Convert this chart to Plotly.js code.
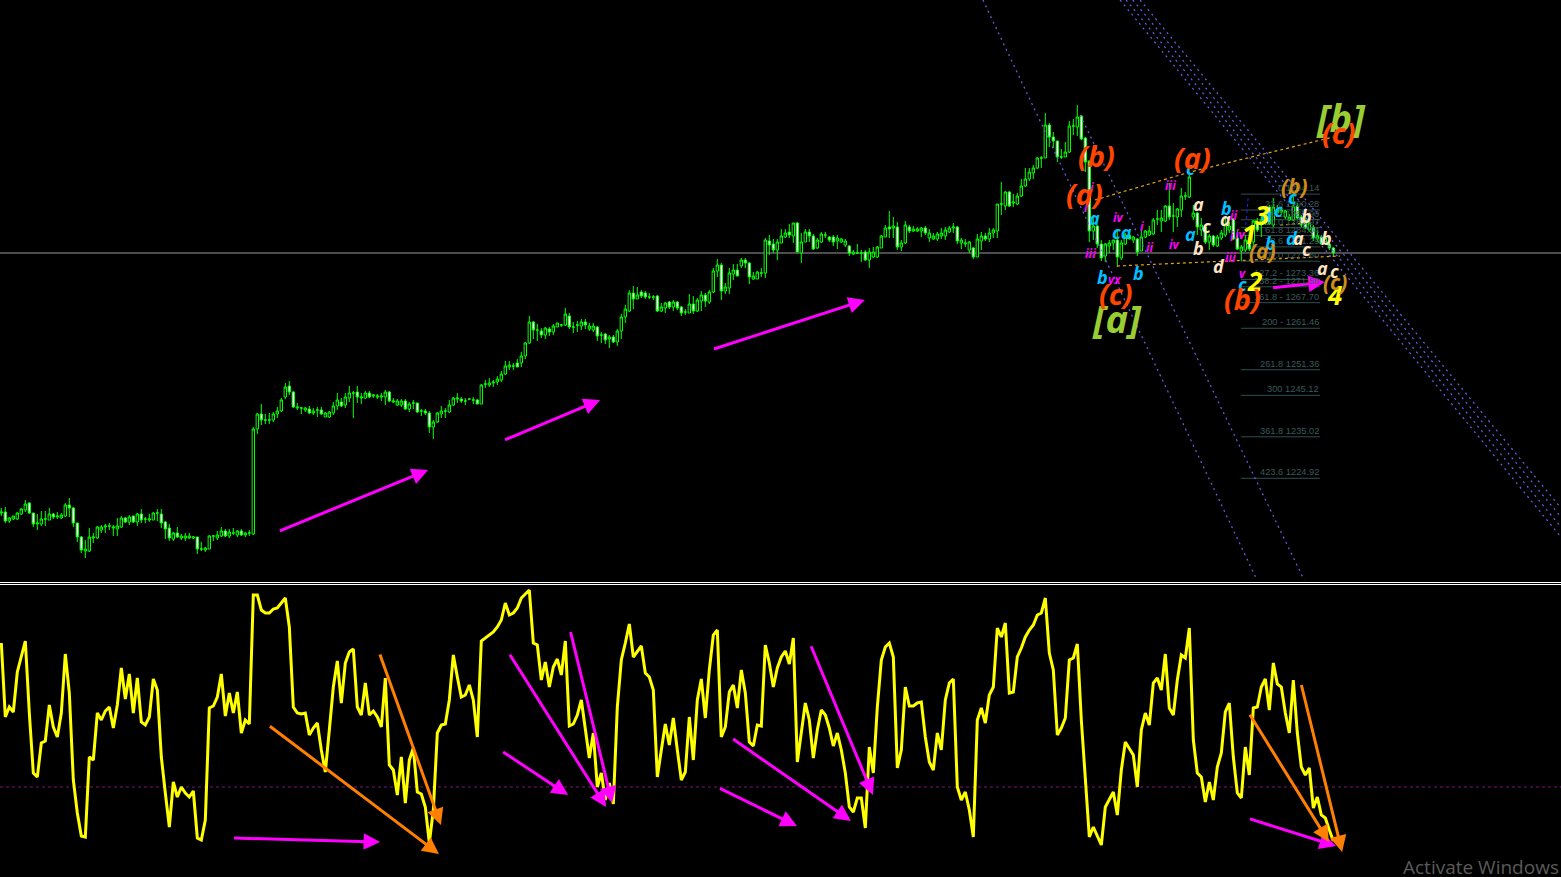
<!DOCTYPE html>
<html><head><meta charset="utf-8">
<script src="https://cdn.plot.ly/plotly-3.0.1.min.js"></script>
<style>html,body{margin:0;padding:0;background:#000;overflow:hidden}#c{width:1561px;height:877px}</style>
</head><body><div id="c"></div>
<script>
// Candle values, in ticks above PRICE_BASE.
const PRICE_BASE = 1200.14, PRICE_PER_TICK = 0.2436, PRICE_TICKS = 580;
const openTicks = [
67,68,59,61,61,66,70,77,67,56, 56,61,60,66,63,62,64,75,72,57, 43,29,29,42,42,50,53,54,52,51,
53,62,58,64,58,66,61,60,60,67, 66,58,52,41,47,42,42,42,42,43, 31,30,31,44,42,44,49,44,47,45,
49,45,47,46,151,166,160,160,160,166, 169,183,194,188,172,172,170,171,167,170, 170,163,163,167,174,178,175,182,187,188,
182,182,187,184,183,183,183,188,178,175, 175,179,171,177,177,169,169,167,153,158, 166,169,168,175,181,181,179,181,180,180,
176,196,195,197,198,200,206,213,214,217, 217,224,237,258,250,249,245,251,248,253, 255,255,264,253,255,254,258,251,250,253,
245,246,241,243,238,249,263,269,287,281, 288,287,283,283,284,269,272,278,273,278, 273,268,267,276,269,279,285,278,288,309,
315,289,292,306,310,314,320,317,301,301, 307,307,339,336,330,337,343,348,344,357, 327,338,348,344,332,338,345,343,343,339,
338,335,334,326,327,327,328,320,323,323, 332,343,353,352,353,333,337,353,349,349, 349,352,342,341,341,344,344,348,352,353,
337,336,330,332,323,339,344,341,347,349, 376,374,388,377,376,384,394,401,407,412, 422,422,455,443,439,423,423,428,454,453,
464,442,419,349,354,336,324,334,337,340, 322,336,345,340,341,329,343,345,346,361, 359,359,374,364,363,370,384,383,363,367,
350,353,338,344,334, 342,345,350,361,342,329,330,340,338,358,355,357,373,355,367,368,363,360,360,374,363,360,350,353,341,343,336,336,332];
const highTicks = [
72,73,63,64,68,72,80,78,67,66, 69,69,72,67,68,67,77,82,73,57, 44,40,52,47,54,55,56,57,55,62,
64,63,65,64,67,71,63,66,68,71, 71,59,56,48,53,46,47,47,44,43, 38,33,45,45,49,53,51,51,52,50,
51,48,50,153,167,176,166,167,168,173, 182,197,199,189,177,173,173,174,172,173, 173,168,169,178,187,182,187,194,189,194,
187,189,189,186,186,187,190,189,182,181, 181,181,178,180,177,171,171,169,160,168, 174,172,180,183,187,183,182,181,183,181,
196,200,202,200,204,209,219,219,217,221, 228,238,264,259,256,252,253,253,256,257, 256,272,267,258,259,261,261,257,257,254,
248,247,245,245,251,266,275,290,294,293, 290,289,287,285,285,277,278,279,280,279, 274,271,286,284,282,289,287,290,312,321,
317,297,312,316,316,322,322,318,308,309, 312,342,345,341,341,351,351,356,357,358, 347,351,351,346,342,348,348,344,345,345,
342,341,335,330,336,330,330,332,333,334, 345,355,369,363,358,340,359,355,354,353, 353,354,351,347,348,352,353,354,357,354,
342,341,339,333,346,348,347,352,352,376, 398,389,389,386,387,401,412,412,415,423, 424,467,457,448,439,431,438,459,461,475,
465,443,420,365,355,340,337,340,340,350, 340,347,346,344,342,352,350,354,362,370, 370,375,397,377,372,392,388,408,375,368,
362,354,346,345,345, 350,362,358,362,350,335,345,353,360,362,367,372,375,382,375,373,370,366,388,377,365,367,360,355,350,345,344,338,333];
const lowTicks = [
64,57,57,60,60,65,68,66,53,50, 54,54,60,61,61,61,63,63,53,38, 27,22,28,37,41,47,47,50,44,44,
52,57,55,57,54,57,57,58,60,59, 52,41,39,39,42,40,39,41,41,26, 29,28,31,39,40,43,43,42,45,43,
44,43,44,45,146,155,156,156,158,162, 168,181,185,172,170,166,168,166,165,163, 165,163,162,165,170,173,172,178,162,177,
176,181,182,182,181,179,175,178,177,174, 173,170,168,171,167,164,165,147,141,157, 162,162,167,174,177,177,175,180,176,176,
176,192,193,193,195,198,205,210,210,213, 213,221,236,241,239,242,241,244,245,253, 253,254,251,247,248,250,251,249,248,239,
237,236,232,237,234,241,257,268,271,281, 282,281,281,280,268,268,267,271,269,270, 264,265,267,266,268,269,273,276,287,303,
280,286,286,300,304,312,312,296,300,301, 303,302,325,327,320,337,342,342,337,328, 317,338,338,330,331,337,342,338,334,331,
337,333,324,325,326,318,319,312,322,322, 332,343,342,342,330,329,336,347,348,348, 343,345,338,340,339,341,340,347,347,336,
331,333,327,321,323,330,339,338,342,342, 365,370,373,373,375,383,393,399,401,411, 412,422,433,432,418,421,423,427,445,444,
440,408,338,340,332,319,318,327,330,313, 320,335,341,337,324,329,342,344,345,355, 348,358,360,348,353,363,380,382,360,345,
344,336,330,333,333, 340,343,347,340,330,319,328,329,330,348,343,355,355,353,367,365,361,359,359,361,353,351,348,339,338,336,335,330,324];
const closeTicks = [
68,59,62,64,67,71,76,67,56,57, 61,61,66,63,64,65,75,72,57,43, 30,31,43,43,53,53,54,54,53,54,
62,58,63,58,66,60,61,61,67,67, 57,51,42,47,43,44,44,44,43,31, 31,32,44,44,45,49,44,48,47,49,
45,47,47,151,166,160,160,160,166,169, 180,193,188,173,173,172,172,167,169,170, 166,167,168,174,180,174,183,187,187,183,
183,187,183,185,184,184,188,179,179,179, 179,171,176,177,168,169,167,153,158,167, 169,169,175,182,182,179,179,181,180,176,
195,196,197,198,201,206,214,215,214,213, 224,237,258,250,250,245,252,248,254,257, 255,266,253,253,255,258,255,254,254,244,
245,240,243,238,249,263,271,287,281,285, 284,283,283,283,269,273,277,273,278,272, 267,268,276,269,280,285,279,288,309,315,
289,293,307,310,304,320,317,303,304,308, 307,340,335,330,338,344,347,345,357,328, 338,348,344,331,340,346,345,340,338,342,
341,339,327,328,327,327,320,328,328,333, 344,352,351,354,333,337,355,349,351,351, 352,347,347,344,346,347,350,352,353,339,
340,337,338,323,341,344,341,347,350,376, 376,388,374,378,384,394,401,408,412,422, 422,455,443,439,423,423,428,454,454,463,
441,418,349,354,336,322,336,337,340,323, 337,345,341,343,328,343,349,349,360,361, 362,374,363,364,371,384,384,403,367,353,
355,338,344,335,343, 347,355,354,341,331,333,340,331,359,350,360,368,356,373,370,370,369,363,374,362,355,352,357,342,344,336,342,332,327];
// Oscillator, per bar, on a 0-291 scale.
const oscillator = [
234,160,170,165,205,222,236,164,104,100, 134,136,172,150,140,164,223,184,97,64, 41,40,120,117,164,157,166,170,149,172,
209,178,203,164,199,155,152,160,198,187, 120,84,50,95,80,90,84,80,86,39, 37,57,169,171,180,203,161,184,164,185,
144,157,153,282,282,267,264,264,268,269, 274,279,250,170,164,163,164,142,149,154, 127,105,147,190,216,174,214,225,228,170,
162,194,162,166,160,150,199,112,107,82, 120,74,117,129,85,83,70,34,67,144, 152,153,177,222,200,180,182,192,177,140,
236,239,242,245,250,257,274,262,264,269, 279,283,287,234,232,197,215,190,210,218, 202,236,151,153,162,177,147,119,144,90,
104,77,94,73,170,217,234,253,220,225, 231,204,200,187,100,127,153,132,159,127, 97,105,160,117,177,198,159,207,242,247,
140,150,185,192,169,207,184,135,131,152, 151,232,214,190,209,220,226,213,239,115, 142,174,157,119,147,167,162,149,131,144,
127,104,70,65,79,79,49,130,104,170, 217,230,234,220,109,127,190,171,171,174, 175,140,115,107,144,127,177,194,198,90,
77,85,67,40,157,169,154,182,190,249, 240,254,184,185,220,229,240,247,252,262, 264,279,224,207,142,149,159,217,219,233,
157,94,40,50,40,32,70,77,85,62, 107,135,129,122,90,147,164,152,194,199, 187,223,169,162,197,222,219,249,137,104,
100,75,95,77,110,124,165,174,120,84, 79,130,102,169,170,190,198,167,214,193, 190,164,144,197,144,110,102,109,69,80,
62,59,47,36];
const OSC_LEVEL = 30;
const OSC_RANGE = 291;
const referenceTick = 327;

// Fibonacci retracement table
const fibPrices = [1294.14,1290.28,1287.90,1285.97,1284.04,1281.29,1277.80,1273.36,1271.56,1267.70,1261.46,1251.36,1245.12,1235.02,1224.92];
const fibLabels = ["0 1294.14","23.6 1290.28","38.2 1287.90","50.0 1285.97","61.8 1284.04","78.6 1281.29","100.0 1277.80","127.2 - 1273.36","138.2 - 1271.56","161.8 - 1267.70","200 - 1261.46","261.8 1251.36","300 1245.12","361.8 1235.02","423.6 1224.92"];
const fibFromBar = 309.9, fibToBar = 329.7;

// Trend lines: [bar0, tick0, bar1, tick1]
const blueLines = [[245.4,580,313.9,0],[269.7,465,325.7,0],[279.7,580,389.9,43],[281.2,580,389.9,53],[282.9,580,389.9,63],[284.7,580,389.9,72]];
const goldLines = [[[273.4,297.2,333],[380,408,443]],[[278.9,334.7],[314,324]],[[319.7,326.4],[355,357]]];
const blueDash = [[311.7,310.9],[382,345]];

// Hand-drawn arrows: [bar0, val0, bar1, val1]
const priceArrowsMagenta = [[68.9,48,106.7,110],[125.2,139,149.7,180],[177.4,230,215.9,280],[317.2,292,330.9,298]];
const oscArrowsMagenta = [[57.4,39,94.7,35],[124.7,127,141.7,82],[126.4,227,151.2,70],[141.7,255,152.7,74],[178.9,90,198.9,51],[182.2,140,212.4,56],[201.7,238,217.9,82],[311.4,59,333.7,31]];
const oscArrowsOrange = [[66.4,153,109.4,23],[93.9,231,109.9,52],[311.4,167,331.9,35],[324.4,202,335.2,25]];

// Wave labels: [text, bar, tick]
const wavesRed = [["(b)",273.7,425],["(a)",270.9,387],["(a)",297.7,423],["(c)",278.7,287],["(b)",310.4,282],["(c)",334.4,448]];
const wavesGreen = [["[b]",334.9,463],["[a]",278.9,262]];
const wavesGold = [["(b)",323.4,394],["(a)",315.2,329],["(c)",333.4,298]];
const wavesYellow = [["2",313.4,299],["4",333.4,285],["1",311.9,346],["3",315.2,365]];
const wavesBlue = [["a",273.2,362],["ca",280.2,348],["a",297.2,346],["c",297.2,412],["b",275.2,303],["b",284.2,307],["b",306.2,372],["a",316.2,365],["c",319.2,370],["b",317.2,337],["d",322.7,342],["c",322.9,383],["c",310.2,296]];
const wavesPeach = [["a",299.2,376],["c",301.2,354],["b",299.2,332],["d",304.4,314],["a",306,361],["b",326.2,364],["a",324.2,342],["c",326.2,331],["b",331.4,342],["a",330.2,312],["c",333.2,309]];
const wavesMagenta = [["i",272.7,393],["i",271.2,373],["iii",272.2,327],["iv",279.2,363],["vx",278.2,301],["i",285.2,354],["ii",287.2,333],["iii",292.2,395],["iv",293.4,336],["ii",308.2,365],["iv",309.7,346],["iii",307.2,323],["v",310.2,307],["i",307.7,344]];

const price = t => PRICE_BASE + t * PRICE_PER_TICK;
const bars = openTicks.map((_, i) => i);
const traces = [];

blueLines.forEach(l => traces.push({type:'scatter',mode:'lines',x:[l[0],l[2]],y:[price(l[1]),price(l[3])],xaxis:'x',yaxis:'y',hoverinfo:'skip',line:{color:'#6a60f0',width:1.2,dash:'2px,4px'}}));
goldLines.forEach(l => traces.push({type:'scatter',mode:'lines',x:l[0],y:l[1].map(price),xaxis:'x',yaxis:'y',hoverinfo:'skip',line:{color:'#E6A317',width:1.2,dash:'3px,3px'}}));
traces.push({type:'scatter',mode:'lines',x:blueDash[0],y:blueDash[1].map(price),xaxis:'x',yaxis:'y',hoverinfo:'skip',line:{color:'#2020ff',width:1,dash:'3px,3px'}});

traces.push({type:'candlestick',x:bars,open:openTicks.map(price),high:highTicks.map(price),low:lowTicks.map(price),close:closeTicks.map(price),
  xaxis:'x',yaxis:'y',hoverinfo:'skip',whiskerwidth:0,
  increasing:{line:{color:'#00FF00',width:1},fillcolor:'#000000'},
  decreasing:{line:{color:'#00FF00',width:1},fillcolor:'#FFFFFF'}});

traces.push({type:'scatter',mode:'lines',x:bars,y:oscillator,xaxis:'x',yaxis:'y2',hoverinfo:'skip',line:{color:'#FFFF00',width:3}});

const annotations = [];
const addArrows = (list, yr, conv, color) => list.forEach(a => annotations.push({
  text:' ',x:a[2],y:conv(a[3]),ax:a[0],ay:conv(a[1]),xref:'x',yref:yr,axref:'x',ayref:yr,
  showarrow:true,arrowhead:2,arrowsize:1.1,arrowwidth:3,arrowcolor:color,standoff:0,startstandoff:0}));
addArrows(priceArrowsMagenta,'y',price,'#FF00FF');
addArrows(oscArrowsMagenta,'y2',v=>v,'#FF00FF');
addArrows(oscArrowsOrange,'y2',v=>v,'#FF8000');

fibLabels.forEach((s,i) => annotations.push({text:s,x:fibToBar,y:fibPrices[i],xref:'x',yref:'y',xanchor:'right',yanchor:'bottom',showarrow:false,borderpad:0,yshift:0,
  font:{family:'Liberation Sans',size:9.3,color:'#3a5a5a'}}));

const addWaves = (list, color, size) => list.forEach(w => annotations.push({
  text:'<b><i>'+w[0]+'</i></b>',x:w[1],y:price(w[2]),xref:'x',yref:'y',xanchor:'center',yanchor:'middle',showarrow:false,
  font:{family:'Open Sans',size:size,color:color}}));
addWaves(wavesMagenta,'#FF00FF',12);
addWaves(wavesBlue,'#00BFFF',18);
addWaves(wavesPeach,'#FFE4C4',18);
addWaves(wavesYellow,'#FFFF00',26);
addWaves(wavesGold,'#CC8E1C',21);
addWaves(wavesGreen,'#9ACD32',38);
addWaves(wavesRed,'#FF4500',29);

annotations.push({text:'Activate Windows',xref:'paper',yref:'paper',x:1,y:10/877,xanchor:'right',yanchor:'middle',showarrow:false,font:{family:'Open Sans',size:19,color:'#5a5a5a'}});

const shapes = [
  {type:'line',xref:'paper',x0:0,x1:1,yref:'y',y0:price(referenceTick),y1:price(referenceTick),line:{color:'#9a9a9a',width:1},layer:'below'},
  {type:'line',xref:'paper',x0:0,x1:1,yref:'y2',y0:OSC_LEVEL*3,y1:OSC_LEVEL*3,line:{color:'#7f107f',width:1,dash:'3px,3px'},layer:'below'},
  {type:'line',xref:'paper',x0:0,x1:1,yref:'paper',y0:1-582.5/877,y1:1-582.5/877,line:{color:'#ffffff',width:1}},
  {type:'line',xref:'paper',x0:0,x1:1,yref:'paper',y0:1-584.5/877,y1:1-584.5/877,line:{color:'#ffffff',width:1}}
];
fibPrices.forEach(p => shapes.push({type:'line',xref:'x',yref:'y',x0:fibFromBar,x1:fibToBar,y0:p,y1:p,line:{color:'#2f4f4f',width:1},layer:'below'}));

const layout = {
  width:1561,height:877,margin:{l:0,r:0,t:0,b:0,pad:0},
  paper_bgcolor:'#000',plot_bgcolor:'#000',showlegend:false,boxgap:0.15,
  xaxis:{range:[-0.33,389.92],visible:false,fixedrange:true,rangeslider:{visible:false},anchor:'y'},
  yaxis:{domain:[1-PRICE_TICKS/877,1],range:[price(0),price(PRICE_TICKS)],visible:false,fixedrange:true,anchor:'x'},
  yaxis2:{domain:[0,OSC_RANGE/877],range:[0,OSC_RANGE],visible:false,fixedrange:true,anchor:'x'},
  shapes,annotations
};
Plotly.newPlot('c',traces,layout,{displayModeBar:false,staticPlot:true});
</script></body></html>
